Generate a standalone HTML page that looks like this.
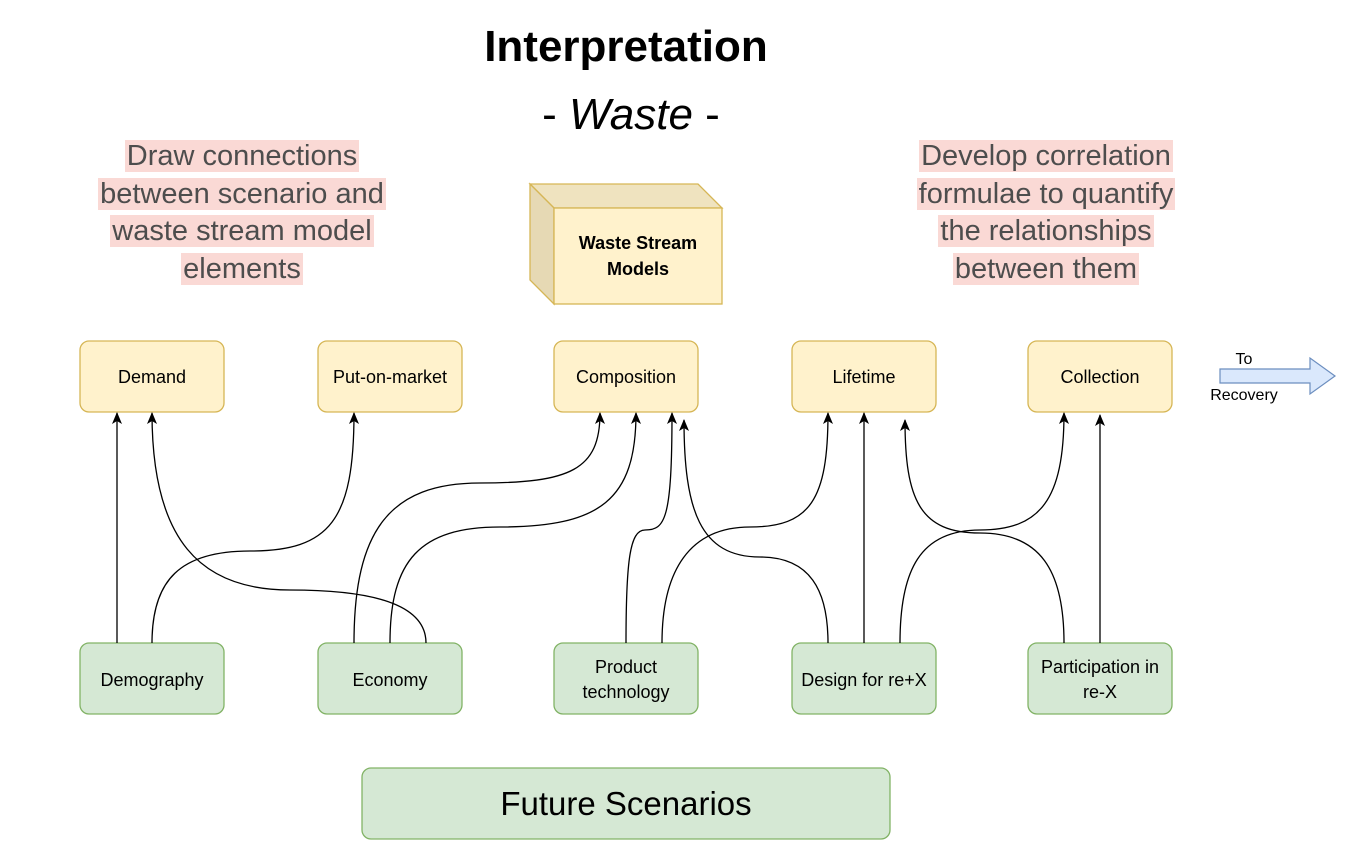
<!DOCTYPE html>
<html><head><meta charset="utf-8"><style>
html,body{margin:0;padding:0;background:#fff;}
body{width:1366px;height:865px;position:relative;overflow:hidden;font-family:"Liberation Sans",sans-serif;}
.hl{position:absolute;width:420px;text-align:center;font-size:29px;line-height:37.5px;color:#4d4d4d;}
.hl span{background:#fad9d5;padding:0 2px;}
</style></head><body>
<div class="hl" style="left:32px;top:138px;"><span>Draw connections</span><br><span>between scenario and</span><br><span>waste stream model</span><br><span>elements</span></div>
<div class="hl" style="left:836px;top:138px;"><span>Develop correlation</span><br><span>formulae to quantify</span><br><span>the relationships</span><br><span>between them</span></div>
<svg width="1366" height="865" style="position:absolute;left:0;top:0" xmlns="http://www.w3.org/2000/svg" font-family="Liberation Sans, sans-serif">
<defs><marker id="a" markerWidth="14" markerHeight="14" refX="11" refY="6" orient="auto" markerUnits="userSpaceOnUse"><path d="M0,1 L12,6 L0,11 L3,6 Z" fill="#000"/></marker></defs>
<text x="626" y="61" font-size="44" font-weight="bold" text-anchor="middle">Interpretation</text>
<text x="631" y="129" font-size="44" text-anchor="middle">- <tspan font-style="italic">Waste</tspan>  -</text>
<polygon points="530,184 698,184 722,208 554,208" fill="#efe3bf" stroke="#d6b656" stroke-width="1.3"/>
<polygon points="530,184 554,208 554,304 530,280" fill="#e6d9b4" stroke="#d6b656" stroke-width="1.3"/>
<rect x="554" y="208" width="168" height="96" fill="#fff2cc" stroke="#d6b656" stroke-width="1.3"/>
<text x="638" y="249" font-size="18" font-weight="bold" text-anchor="middle">Waste Stream</text>
<text x="638" y="275" font-size="18" font-weight="bold" text-anchor="middle">Models</text>
<g fill="#fff2cc" stroke="#d6b656" stroke-width="1.3">
<rect x="80" y="341" width="144" height="71" rx="9"/><rect x="318" y="341" width="144" height="71" rx="9"/><rect x="554" y="341" width="144" height="71" rx="9"/><rect x="792" y="341" width="144" height="71" rx="9"/><rect x="1028" y="341" width="144" height="71" rx="9"/>
</g>
<g font-size="18" text-anchor="middle">
<text x="152" y="383">Demand</text><text x="390" y="383">Put-on-market</text><text x="626" y="383">Composition</text><text x="864" y="383">Lifetime</text><text x="1100" y="383">Collection</text>
</g>
<g fill="#d5e8d4" stroke="#82b366" stroke-width="1.3">
<rect x="80" y="643" width="144" height="71" rx="9"/><rect x="318" y="643" width="144" height="71" rx="9"/><rect x="554" y="643" width="144" height="71" rx="9"/><rect x="792" y="643" width="144" height="71" rx="9"/><rect x="1028" y="643" width="144" height="71" rx="9"/>
<rect x="362" y="768" width="528" height="71" rx="9"/>
</g>
<g font-size="18" text-anchor="middle">
<text x="152" y="686">Demography</text><text x="390" y="686">Economy</text>
<text x="626" y="673">Product</text><text x="626" y="698">technology</text>
<text x="864" y="686">Design for re+X</text>
<text x="1100" y="673">Participation in</text><text x="1100" y="698">re-X</text>
<text x="626" y="815" font-size="33">Future Scenarios</text>
</g>
<polygon points="1220,369 1310,369 1310,358 1335,376 1310,394 1310,383 1220,383" fill="#dae8fc" stroke="#6c8ebf" stroke-width="1.2"/>
<text x="1244" y="364" font-size="16" text-anchor="middle">To</text>
<text x="1244" y="400" font-size="16" text-anchor="middle">Recovery</text>
<g fill="none" stroke="#000" stroke-width="1.3" marker-end="url(#a)">
<path d="M117,643 L117,413"/>
<path d="M152,643 C152,580 180,551 250,551 C330,551 354,520 354,413"/>
<path d="M426,643 C426,600 360,590 290,590 C200,590 152,540 152,413"/>
<path d="M354,643 C354,530 390,483 480,483 C570,483 600,470 600,413"/>
<path d="M390,643 C390,560 420,527 500,527 C600,527 636,500 636,413"/>
<path d="M626,643 C626,560 630,530 645,530 C665,530 672,520 672,413"/>
<path d="M828,643 C828,590 810,557 760,557 C700,557 684,510 684,420"/>
<path d="M662,643 C662,570 690,527 750,527 C810,527 828,500 828,413"/>
<path d="M864,643 L864,413"/>
<path d="M900,643 C900,570 920,530 980,530 C1040,530 1064,500 1064,413"/>
<path d="M1064,643 C1064,570 1040,533 980,533 C920,533 905,500 905,420"/>
<path d="M1100,643 L1100,415"/>
</g>
</svg>
</body></html>
